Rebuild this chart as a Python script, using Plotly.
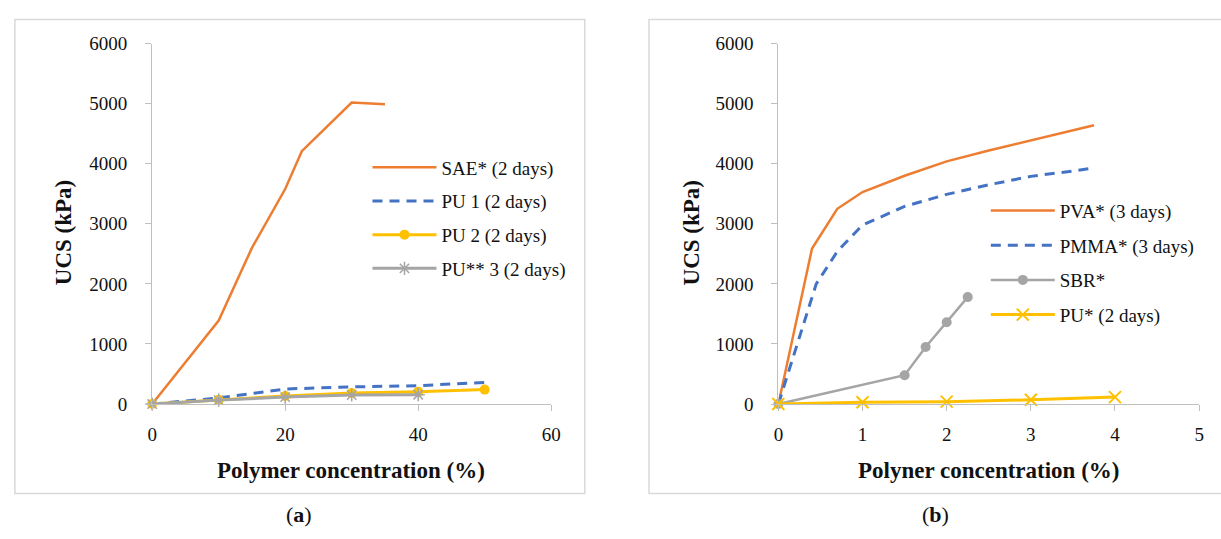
import plotly.graph_objects as go

W, H = 1221, 539
FONT = "'Liberation Serif', 'DejaVu Serif', 'Times New Roman', serif"

# ---- Data: panel (a) ----
sae_x = [0, 10, 15, 20, 22.5, 30, 35]
sae_y = [0, 1390, 2600, 3580, 4210, 5020, 4990]
pu1_x = [0, 10, 20, 30, 40, 50]
pu1_y = [0, 100, 250, 285, 305, 360]
pu2_x = [0, 10, 20, 30, 40, 50]
pu2_y = [0, 70, 135, 185, 205, 240]
pu3_x = [0, 10, 20, 30, 40]
pu3_y = [0, 65, 115, 150, 155]

# ---- Data: panel (b) ----
pva_x = [0, 0.4, 0.7, 1, 1.5, 2, 2.5, 3, 3.5, 3.75]
pva_y = [0, 2590, 3250, 3530, 3800, 4040, 4220, 4390, 4560, 4640]
pmma_x = [0, 0.45, 0.7, 1, 1.5, 2, 2.5, 3, 3.5, 3.75]
pmma_y = [0, 2000, 2540, 2980, 3290, 3490, 3650, 3790, 3880, 3930]
sbr_x = [0, 1.5, 1.75, 2, 2.25]
sbr_y = [0, 480, 950, 1360, 1780]
pus_x = [0, 1, 2, 3, 4]
pus_y = [0, 30, 40, 70, 115]

ORANGE = "#ED7D31"
BLUE = "#4472C4"
YELLOW = "#FFC000"
GRAY = "#A5A5A5"
AXIS = "#BFBFBF"
TXT = "#111111"

def px(x):
    return x / W

def py(y):
    return 1 - y / H

fig = go.Figure()

# panel (a)
fig.add_trace(go.Scatter(x=sae_x, y=sae_y, mode="lines", name="SAE* (2 days)",
                         line=dict(color=ORANGE, width=2.5), legendgroup="a1",
                         xaxis="x", yaxis="y", legend="legend", cliponaxis=False))
fig.add_trace(go.Scatter(x=pu1_x, y=pu1_y, mode="lines", name="PU 1 (2 days)",
                         line=dict(color=BLUE, width=3, dash="10px,7px"), legendgroup="a2",
                         xaxis="x", yaxis="y", legend="legend", cliponaxis=False))
fig.add_trace(go.Scatter(x=pu2_x, y=pu2_y, mode="lines+markers", name="PU 2 (2 days)",
                         line=dict(color=YELLOW, width=3),
                         marker=dict(symbol="circle", size=10, color=YELLOW),
                         legendgroup="a3", xaxis="x", yaxis="y", legend="legend", cliponaxis=False))
fig.add_trace(go.Scatter(x=pu3_x, y=pu3_y, mode="lines+markers", name="PU** 3 (2 days)",
                         line=dict(color=GRAY, width=3),
                         marker=dict(symbol="asterisk-open", size=11, color=GRAY,
                                     line=dict(color=GRAY, width=1.5)),
                         legendgroup="a4", xaxis="x", yaxis="y", legend="legend", cliponaxis=False))

# panel (b)
fig.add_trace(go.Scatter(x=pva_x, y=pva_y, mode="lines", name="PVA* (3 days)",
                         line=dict(color=ORANGE, width=2.5), legendgroup="b1",
                         xaxis="x2", yaxis="y2", legend="legend2", cliponaxis=False))
fig.add_trace(go.Scatter(x=pmma_x, y=pmma_y, mode="lines", name="PMMA* (3 days)",
                         line=dict(color=BLUE, width=3, dash="10px,7px"), legendgroup="b2",
                         xaxis="x2", yaxis="y2", legend="legend2", cliponaxis=False))
fig.add_trace(go.Scatter(x=sbr_x, y=sbr_y, mode="lines+markers", name="SBR*",
                         line=dict(color=GRAY, width=2.5),
                         marker=dict(symbol="circle", size=10, color=GRAY),
                         legendgroup="b3", xaxis="x2", yaxis="y2", legend="legend2", cliponaxis=False))
fig.add_trace(go.Scatter(x=pus_x, y=pus_y, mode="lines+markers", name="PU* (2 days)",
                         line=dict(color=YELLOW, width=3),
                         marker=dict(symbol="x-thin-open", size=12, color=YELLOW,
                                     line=dict(color=YELLOW, width=2)),
                         legendgroup="b4", xaxis="x2", yaxis="y2", legend="legend2", cliponaxis=False))

ydom = [py(410), py(35)]

def xax(domain, rng, dtick, anchor):
    return dict(domain=domain, range=rng, dtick=dtick, tick0=0, anchor=anchor,
                showgrid=False, zeroline=False, showline=True, linecolor=AXIS, linewidth=1,
                ticks="outside", ticklen=6, tickcolor=AXIS, tickwidth=1,
                tickfont=dict(family=FONT, size=19, color=TXT),
                ticklabelstandoff=7, fixedrange=True)

def yax(rng, dtick, anchor):
    return dict(domain=ydom, range=rng, dtick=dtick, tick0=0, anchor=anchor,
                showgrid=False, zeroline=False, showline=True, linecolor=AXIS, linewidth=1,
                ticks="outside", ticklen=6, tickcolor=AXIS, tickwidth=1,
                tickfont=dict(family=FONT, size=19, color=TXT),
                ticklabelstandoff=14, fixedrange=True)

shapes = [
    dict(type="rect", xref="paper", yref="paper", x0=px(10), x1=px(587), y0=py(503), y1=py(10),
         line=dict(color="#D9D9D9", width=1.5), layer="below"),
    dict(type="rect", xref="paper", yref="paper", x0=px(652), x1=px(1235), y0=py(503), y1=py(10),
         line=dict(color="#D9D9D9", width=1.5), layer="below"),
]

def ann(text, x, y, size, angle=0):
    return dict(text=text, x=px(x), y=py(y), xref="paper", yref="paper",
                xanchor="center", yanchor="middle", textangle=angle, showarrow=False,
                font=dict(family=FONT, size=size, color=TXT))

annotations = [
    ann("<b>UCS (kPa)</b>", 60, 232, 23, -90),
    ann("<b>UCS (kPa)</b>", 695, 232, 23, -90),
    ann("<b>Polymer concentration (%)</b>", 350, 479, 23),
    ann("<b>Polyner concentration (%)</b>", 996, 479, 23),
    ann("(<b>a</b>)", 298, 525, 22),
    ann("(<b>b</b>)", 942, 525, 22),
]

leg_common = dict(xanchor="left", yanchor="top", itemwidth=64,
                  font=dict(family=FONT, size=19, color=TXT), bgcolor="rgba(0,0,0,0)",
                  borderwidth=0, traceorder="grouped")

fig.update_layout(
    width=W, height=H, margin=dict(l=0, r=0, t=0, b=0),
    paper_bgcolor="white", plot_bgcolor="white", showlegend=True,
    xaxis=xax([px(149), px(553)], [0, 60], 20, "y"),
    yaxis=yax([0, 6000], 1000, "x"),
    xaxis2=xax([px(783), px(1209)], [0, 5], 1, "y2"),
    yaxis2=yax([0, 6000], 1000, "x2"),
    legend=dict(x=px(367), y=py(144), tracegroupgap=6, **leg_common),
    legend2=dict(x=px(993), y=py(189), tracegroupgap=7, **leg_common),
    shapes=shapes, annotations=annotations,
)

fig.write_html("out.html")
